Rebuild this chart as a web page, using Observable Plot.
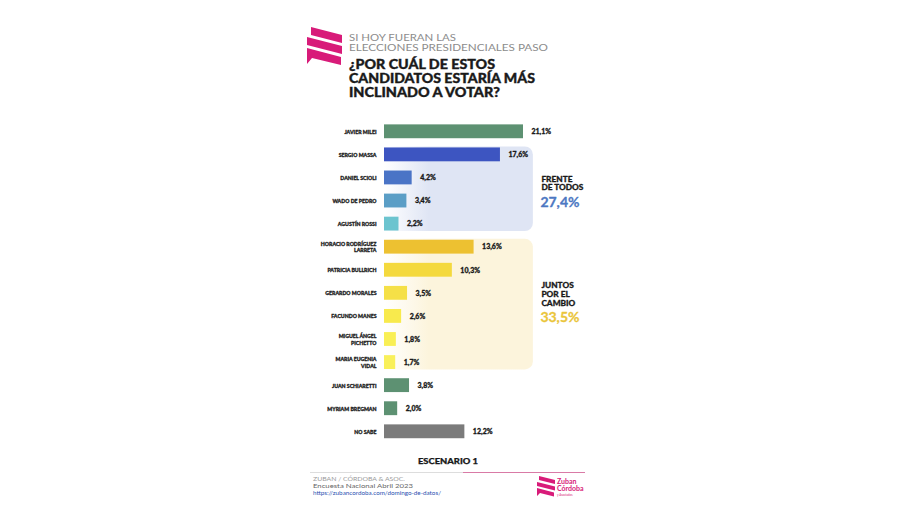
<!DOCTYPE html>
<html><head><meta charset="utf-8">
<script src="https://cdn.jsdelivr.net/npm/d3@7"></script>
<script src="https://cdn.jsdelivr.net/npm/@observablehq/plot@0.6"></script>
<style>
html,body{margin:0;padding:0;background:#fff;}
#wrap{position:relative;width:900px;height:505px;overflow:hidden;background:#fff;}
#wrap svg{position:absolute;left:0;top:0;}
</style></head><body>
<div id="wrap">
<svg id="deco" width="900" height="505" style="font-family:Lato,'Open Sans',sans-serif">
  <g fill="#d81b79">
    <polygon points="311,27 342,35 342,43 311,35"/>
    <polygon points="307,37 342,46 342,54 307,45"/>
    <polygon points="307,48 341,57 341,65 312,58 307,64"/>
  </g>
  <text x="349" y="40.5" font-size="9.6" fill="#8c8c8c" textLength="107" lengthAdjust="spacingAndGlyphs">SI HOY FUERAN LAS</text>
  <text x="349" y="50.8" font-size="9.6" fill="#8c8c8c" textLength="199" lengthAdjust="spacingAndGlyphs">ELECCIONES PRESIDENCIALES PASO</text>
  <g font-size="12.5" font-weight="900" fill="#1a1a1a" stroke="#1a1a1a" stroke-width="0.35">
  <text x="349" y="68.5" textLength="146" lengthAdjust="spacingAndGlyphs">¿POR CUÁL DE ESTOS</text>
  <text x="349" y="82.5" textLength="186" lengthAdjust="spacingAndGlyphs">CANDIDATOS ESTARÍA MÁS</text>
  <text x="349" y="96.5" textLength="151" lengthAdjust="spacingAndGlyphs">INCLINADO A VOTAR?</text>
  </g>

  <text x="448" y="464" font-size="8" font-weight="900" fill="#1a1a1a" stroke="#1a1a1a" stroke-width="0.25" text-anchor="middle" textLength="60" lengthAdjust="spacingAndGlyphs">ESCENARIO 1</text>
  <line x1="310" x2="463" y1="472.5" y2="472.5" stroke="#dddddd" stroke-width="1"/>
  <line x1="463" x2="585" y1="472.5" y2="472.5" stroke="#d97aa6" stroke-width="1.2"/>
  <text x="313" y="481.3" font-size="4.8" fill="#9a9a9a" textLength="92" lengthAdjust="spacingAndGlyphs">ZUBAN / CÓRDOBA &amp; ASOC.</text>
  <text x="313" y="488.3" font-size="6.4" fill="#666" textLength="100" lengthAdjust="spacingAndGlyphs">Encuesta Nacional Abril 2023</text>
  <text x="313" y="494.5" font-size="4.8" fill="#2a4fb0" textLength="128" lengthAdjust="spacingAndGlyphs">https://zubancordoba.com/domingo-de-datos/</text>

  <g fill="#d81b79">
    <polygon points="539,476 555,480 555,484 539,480"/>
    <polygon points="537,482 555,486.5 555,490.5 537,486"/>
    <polygon points="537,488 554,492.5 554,496.5 540,493 537,496"/>
  </g>
  <text x="557" y="483.5" font-size="7" font-weight="700" fill="#d81b79">Zuban</text>
  <text x="557" y="490.5" font-size="7" font-weight="700" fill="#d81b79">Córdoba</text>
  <text x="557" y="495.5" font-size="3" fill="#d81b79">y Asociados</text>
</svg>
</div>
<script>
const candidates = [
  "JAVIER MILEI", "SERGIO MASSA", "DANIEL SCIOLI", "WADO DE PEDRO", "AGUSTÍN ROSSI",
  "HORACIO RODRÍGUEZ\nLARRETA", "PATRICIA BULLRICH", "GERARDO MORALES", "FACUNDO MANES",
  "MIGUEL ÁNGEL\nPICHETTO", "MARIA EUGENIA\nVIDAL", "JUAN SCHIARETTI", "MYRIAM BREGMAN", "NO SABE"
];
const values = [21.1, 17.6, 4.2, 3.4, 2.2, 13.6, 10.3, 3.5, 2.6, 1.8, 1.7, 3.8, 2.0, 12.2];
const barPalette = ["#5d9172", "#3d55c1", "#4a74c6", "#5b9ec6", "#6cc4cf", "#edc131", "#f4d93d",
  "#f5e047", "#f8ea4d", "#f9ef55", "#f9f05a", "#5d9172", "#5d9172", "#7b7b7b"];

const groupNames = ["FRENTE\nDE TODOS", "JUNTOS\nPOR EL\nCAMBIO"];
const groupTotals = [27.4, 33.5];
const groupFirst = [1, 5];
const groupLast = [4, 10];
const groupBoxPalette = ["#dfe5f4", "#fcf4dc"];
const groupTotalPalette = ["#4d78c2", "#eac53b"];

const fmt = v => d3.format(".1f")(v).replace(".", ",") + "%";
const rows = candidates.map((name, i) => ({name, value: values[i], i, color: barPalette[i]}));
const groups = groupNames.map((name, k) => ({
  name, total: groupTotals[k], k,
  y1: groupFirst[k] - 0.34, y2: groupLast[k] + 0.32,
  mid: (groupFirst[k] + groupLast[k]) / 2,
  fill: `url(#grad${k})`, tcolor: groupTotalPalette[k]
}));
const boxRight = 22.6;

const chart = Plot.plot({
  width: 900, height: 505,
  marginTop: 0, marginBottom: 0, marginLeft: 0, marginRight: 0,
  x: {domain: [0, 21.1], range: [384, 523], axis: null},
  y: {domain: [0, 13], range: [131.3, 431.3], axis: null},
  color: {type: "identity"},
  style: {background: "transparent", fontFamily: "Lato, 'Open Sans', sans-serif", overflow: "visible"},
  marks: [
    Plot.rect(groups, {x1: 0, x2: boxRight, y1: "y1", y2: "y2", fill: "fill", rx: 8}),
    Plot.rect(rows, {x1: 0, x2: "value", y1: d => d.i - 0.3, y2: d => d.i + 0.3, fill: "color"}),
    Plot.text(rows, {x: 0, y: "i", text: "name", textAnchor: "end", dx: -8, fontSize: 5.2,
      fontWeight: 900, fill: "#222", stroke: "#222", strokeWidth: 0.3, lineHeight: 1.2}),
    Plot.text(rows, {x: "value", y: "i", text: d => fmt(d.value), textAnchor: "start", dx: 8,
      fontSize: 7, fontWeight: 900, fill: "#1a1a1a", stroke: "#1a1a1a", strokeWidth: 0.3}),
    Plot.text(groups, {x: boxRight, y: "mid", text: "name", textAnchor: "start", dx: 8, dy: 1,
      lineAnchor: "bottom", fontSize: 8.3, fontWeight: 900, fill: "#1a1a1a", stroke: "#1a1a1a",
      strokeWidth: 0.3, lineHeight: 1.05}),
    Plot.text(groups, {x: boxRight, y: "mid", text: d => fmt(d.total), textAnchor: "start", dx: 7, dy: 13,
      fontSize: 14, fontWeight: 700, fill: "tcolor", stroke: "tcolor", strokeWidth: 0.3})
  ]
});

const ns = "http://www.w3.org/2000/svg";
const defs = document.createElementNS(ns, "defs");
defs.innerHTML = groupBoxPalette.map((c, k) =>
  `<linearGradient id="grad${k}" x1="0" x2="1" y1="0" y2="0">
     <stop offset="0" stop-color="${c}" stop-opacity="0"/>
     <stop offset="0.3" stop-color="${c}" stop-opacity="1"/>
     <stop offset="1" stop-color="${c}" stop-opacity="1"/>
   </linearGradient>`).join("");
chart.insertBefore(defs, chart.firstChild);
const wrap = document.getElementById("wrap");
wrap.insertBefore(chart, wrap.firstChild);
</script>
</body></html>
